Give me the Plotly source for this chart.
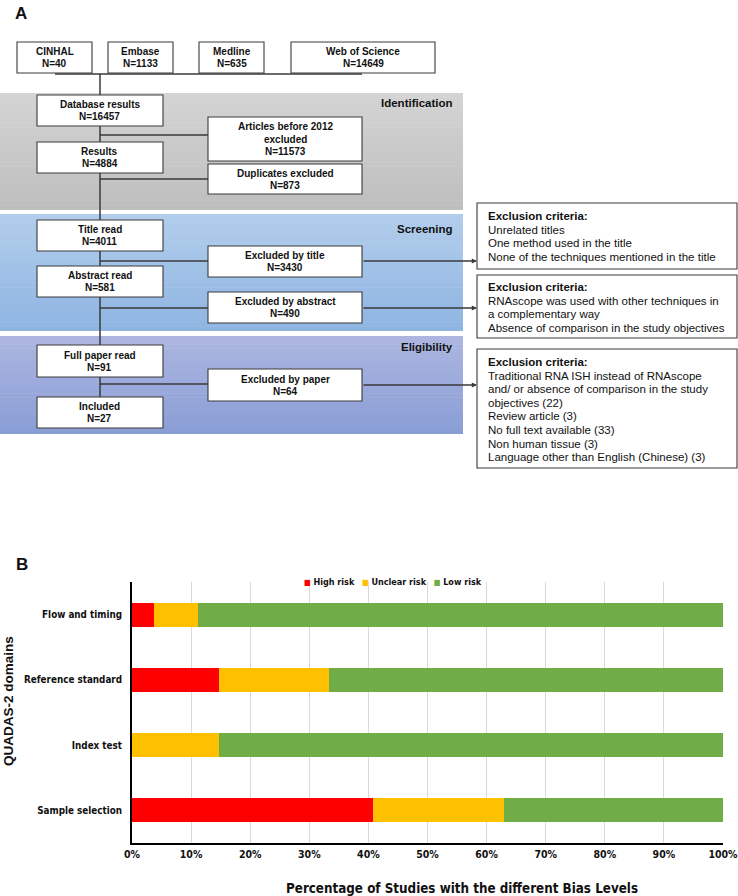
import plotly.graph_objects as go

W, H = 738, 896

# Panel B: QUADAS-2 risk of bias, share of the 27 included studies (%)
DOMAINS = ["Sample selection", "Index test", "Reference standard", "Flow and timing"]
HIGH_RISK = [40.7, 0.0, 14.8, 3.7]
UNCLEAR_RISK = [22.2, 14.8, 18.5, 7.4]
LOW_RISK = [37.1, 85.2, 66.7, 88.9]
RISK_NAMES = ["High risk", "Unclear risk", "Low risk"]
RISK_COLORS = ["#FF0000", "#FFC000", "#70AD47"]
X_TICKS = [0, 10, 20, 30, 40, 50, 60, 70, 80, 90, 100]

# Panel A: flow of the search
SOURCES = ["CINHAL", "Embase", "Medline", "Web of Science"]
SOURCE_N = [40, 1133, 635, 14649]
STAGES = ["Database results", "Results", "Title read", "Abstract read",
          "Full paper read", "Included"]
STAGE_N = [16457, 4884, 4011, 581, 91, 27]
REMOVED = [["Articles before 2012", "excluded"], ["Duplicates excluded"],
           ["Excluded by title"], ["Excluded by abstract"], ["Excluded by paper"]]
REMOVED_N = [11573, 873, 3430, 490, 64]
PHASES = ["Identification", "Screening", "Eligibility"]
TITLE_CRITERIA = ["Unrelated titles", "One method used in the title",
                  "None of the techniques mentioned in the title"]
ABSTRACT_CRITERIA = ["RNAscope was used with other techniques in",
                     "a complementary way",
                     "Absence of comparison in the study objectives"]
PAPER_CRITERIA = ["Traditional RNA ISH instead of RNAscope",
                  "and/ or absence of comparison in the study",
                  "objectives (22)", "Review article (3)",
                  "No full text available (33)", "Non human tissue (3)",
                  "Language other than English (Chinese) (3)"]

FONT = "Arial, Liberation Sans, sans-serif"
NARROW = "Liberation Sans Narrow, Arial Narrow, DejaVu Sans Condensed, sans-serif"
INK = "#3a3a3a"

shapes = []
annotations = []


def fx(x):
    return x / W


def fy(y):
    return 1 - y / H


def rect(x0, y0, x1, y1, fill="white", line=INK, width=1.1):
    shapes.append(dict(type="rect", xref="paper", yref="paper",
                       x0=fx(x0), x1=fx(x1), y0=fy(y1), y1=fy(y0),
                       fillcolor=fill, line=dict(color=line, width=width)))


def seg(x0, y0, x1, y1):
    shapes.append(dict(type="line", xref="paper", yref="paper",
                       x0=fx(x0), x1=fx(x1), y0=fy(y0), y1=fy(y1),
                       line=dict(color=INK, width=1.5)))


def text(x, y, s, size=10, xanchor="center", yanchor="middle", family=FONT, angle=0):
    annotations.append(dict(x=fx(x), y=fy(y), xref="paper", yref="paper",
                            text=s, showarrow=False, xanchor=xanchor,
                            yanchor=yanchor, textangle=angle,
                            font=dict(family=family, size=size, color="#111111")))


def stack(x, y_mid, rows, gap=12, size=10, xanchor="center"):
    # one annotation per line so the line pitch follows the original
    top = y_mid - gap * (len(rows) - 1) / 2
    for i, r in enumerate(rows):
        text(x, top + i * gap, r, size=size, xanchor=xanchor)


def arrow(x0, x1, y):
    annotations.append(dict(x=fx(x1), y=fy(y), xref="paper", yref="paper",
                            ax=-(x1 - x0), ay=0, text="", showarrow=True,
                            arrowhead=2, arrowsize=0.8, arrowwidth=1.3,
                            arrowcolor=INK))


def mix(c0, c1, t):
    return "rgb(%d,%d,%d)" % tuple(round(a + (b - a) * t) for a, b in zip(c0, c1))


def band(y0, y1, top, bottom, steps=24):
    step = (y1 - y0) / steps
    for i in range(steps):
        col = mix(top, bottom, i / (steps - 1))
        rect(0, y0 + i * step, 463, min(y1, y0 + (i + 1) * step + 0.6),
             fill=col, line=col, width=0)


# ---- Panel A -------------------------------------------------------------
text(21, 13, "<b>A</b>", size=17)

band(93, 210, (212, 212, 212), (190, 190, 190))
band(214, 331, (178, 205, 236), (142, 181, 226))
band(336, 434, (172, 182, 224), (138, 158, 214))
for name, y in zip(PHASES, [103, 229, 347]):
    text(455, y, "<b>%s</b>" % name, size=11.5, xanchor="right")

# connectors
seg(55, 74, 362, 74)
seg(100, 74, 100, 397)
for y in [135, 179, 261, 308, 384]:
    seg(100, y, 208, y)
for y in [261, 308, 385]:
    arrow(362, 477, y)

# database boxes
for name, n, (x0, x1) in zip(SOURCES, SOURCE_N,
                             [(17, 92), (108, 173), (199, 264), (291, 435)]):
    rect(x0, 42, x1, 73)
    stack((x0 + x1) / 2, 57.5, ["<b>%s</b>" % name, "<b>N=%d</b>" % n])

# main stages
for name, n, (y0, y1) in zip(STAGES, STAGE_N,
                             [(95, 126), (142, 173), (220, 251), (266, 297),
                              (345, 377), (397, 428)]):
    rect(37, y0, 163, y1)
    stack(100, (y0 + y1) / 2, ["<b>%s</b>" % name, "<b>N=%d</b>" % n])

# removed records
for rows, n, (y0, y1) in zip(REMOVED, REMOVED_N,
                             [(117, 161), (164, 194), (246, 277), (292, 323),
                              (369, 401)]):
    rect(208, y0, 362, y1)
    stack(285, (y0 + y1) / 2, ["<b>%s</b>" % r for r in rows] + ["<b>N=%d</b>" % n])

# exclusion criteria
for items, (y0, y1), first in zip([TITLE_CRITERIA, ABSTRACT_CRITERIA, PAPER_CRITERIA],
                                  [(203, 269), (275, 338), (349, 468)],
                                  [216, 287, 362]):
    rect(477, y0, 737, y1)
    rows = ["<b>Exclusion criteria:</b>"] + items
    for i, r in enumerate(rows):
        text(486, first + i * 13.6, r, size=11.5, xanchor="left")

# ---- Panel B -------------------------------------------------------------
text(22, 564, "<b>B</b>", size=17)

fig = go.Figure()
for name, vals, color in zip(RISK_NAMES, [HIGH_RISK, UNCLEAR_RISK, LOW_RISK], RISK_COLORS):
    fig.add_trace(go.Bar(
        y=DOMAINS, x=vals, name=name, orientation="h",
        marker=dict(color=color, line=dict(width=0)),
        showlegend=False,
        hovertemplate="%{y}<br>" + name + ": %{x:.1f}%<extra></extra>",
    ))

legend_txt = "&nbsp;&nbsp;&nbsp;".join(
    '<span style="color:%s;font-size:8px">&#9632;</span> <b>%s</b>' % (c, n)
    for n, c in zip(RISK_NAMES, RISK_COLORS))
text(393, 582, legend_txt, size=9, family=NARROW)

text(8, 701, "<b>QUADAS-2 domains</b>", size=13.5, angle=-90)
text(462, 888, "<b>Percentage of Studies with the different Bias Levels</b>",
     size=13.3, family=NARROW)

fig.update_layout(
    width=W, height=H, autosize=False,
    margin=dict(l=0, r=0, t=0, b=0, autoexpand=False),
    paper_bgcolor="white", plot_bgcolor="white",
    barmode="stack", bargap=0.63,
    shapes=shapes, annotations=annotations,
    xaxis=dict(domain=[fx(132), fx(723)], range=[0, 100], tickvals=X_TICKS,
               ticktext=["<b>%d%%</b>" % t for t in X_TICKS],
               ticklabeloverflow="allow", automargin=False,
               showgrid=True, gridcolor="#d9d9d9", gridwidth=1,
               zeroline=False, showline=True, linecolor="black", linewidth=2,
               tickfont=dict(family=NARROW, size=10.5, color="#111111"),
               fixedrange=True),
    yaxis=dict(domain=[fy(843), fy(582)], categoryorder="array",
               categoryarray=DOMAINS, showgrid=False, zeroline=False,
               showline=True, linecolor="black", linewidth=2,
               ticklabelstandoff=6, automargin=False,
               tickvals=DOMAINS, ticktext=["<b>%s</b>" % d for d in DOMAINS],
               tickfont=dict(family=NARROW, size=9.8, color="#111111"),
               fixedrange=True),
)

# pin the figure to the window corner (the page body has a default margin)
pin = ("document.body.style.margin='0';"
       "var gd=document.getElementById('{plot_id}');"
       "gd.style.position='fixed';gd.style.left='0px';gd.style.top='0px';")
fig.write_html("out.html", config={"displayModeBar": False, "responsive": False},
               post_script=pin)
